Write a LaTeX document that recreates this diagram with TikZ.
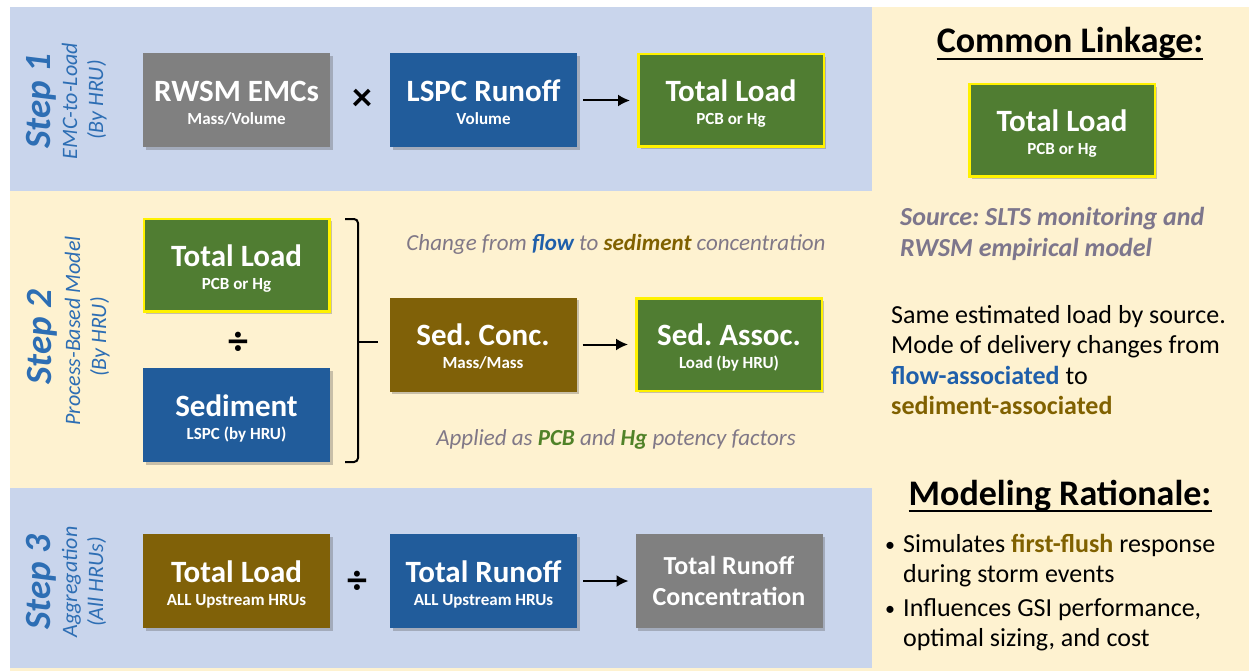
\documentclass[tikz,border=0pt]{standalone}
\usepackage{fontspec}
\setmainfont{Carlito}
\frenchspacing
\usetikzlibrary{arrows.meta,shadows}
\definecolor{cream}{RGB}{254,242,208}
\definecolor{bandblue}{RGB}{201,213,236}
\definecolor{boxgray}{RGB}{128,128,128}
\definecolor{boxblue}{RGB}{33,92,155}
\definecolor{boxgreen}{RGB}{80,125,50}
\definecolor{boxbrown}{RGB}{128,97,8}
\definecolor{stepblue}{RGB}{45,110,180}
\definecolor{flowblue}{RGB}{31,95,170}
\definecolor{sedbrown}{RGB}{128,97,0}
\definecolor{potgreen}{RGB}{80,130,40}
\definecolor{softgray}{RGB}{128,120,135}
\definecolor{srcgray}{RGB}{125,118,140}
\newcommand\flowbox[6]{%
  \node[#4] (#1) at (#2,#3) {};
  \node[ttl] (#1t) at (#2,#3+1) {#5};
  \node[sbt] (#1s) at (#2,#3+24) {#6};
}
\begin{document}
\frenchspacing
\begin{tikzpicture}[x=1pt,y=-1pt,
  box/.style={minimum width=187pt,minimum height=94pt,inner sep=0pt,outer sep=0pt,
    drop shadow={shadow xshift=2.5pt,shadow yshift=-2.5pt,opacity=.3,fill=black!70}},
  graybox/.style={box,fill=boxgray},
  bluebox/.style={box,fill=boxblue},
  brownbox/.style={box,fill=boxbrown},
  greenbox/.style={box,fill=boxgreen,draw=yellow,line width=2.5pt,
    minimum width=185.5pt,minimum height=92.5pt,outer sep=1.25pt},
  ttl/.style={anchor=base,inner sep=0pt,text=white,font=\fontsize{31}{34}\selectfont\bfseries},
  ttl2/.style={anchor=base,inner sep=0pt,text=white,font=\fontsize{26}{28}\selectfont\bfseries},
  sbt/.style={anchor=base,inner sep=0pt,text=white,font=\fontsize{17}{19}\selectfont\bfseries},
  op/.style={inner sep=0pt,text=black,font=\fontsize{40}{42}\selectfont\bfseries},
  arr/.style={line width=2pt,-{Latex[length=12pt,width=12pt]},shorten <=6pt,shorten >=7pt},
  steplbl/.style={rotate=90,anchor=base,inner sep=0pt,text=stepblue,font=\fontsize{37}{40}\selectfont\bfseries\itshape},
  sublbl/.style={rotate=90,anchor=base,inner sep=0pt,text=stepblue,font=\fontsize{22}{24}\selectfont\itshape},
  head/.style={anchor=base,inner sep=0pt,text=black,font=\fontsize{36}{38}\selectfont\bfseries},
  uline/.style={line width=2pt},
  note/.style={anchor=base,inner sep=0pt,text=softgray,font=\fontsize{23}{26}\selectfont\itshape},
  src/.style={anchor=base west,inner sep=0pt,text=srcgray,font=\fontsize{26}{28}\selectfont\bfseries\itshape},
  body/.style={anchor=base west,inner sep=0pt,text=black,font=\fontsize{26}{28}\selectfont},
  brk/.style={line width=2pt,rounded corners=4pt}]
\useasboundingbox (0,0) rectangle (1249,671);
\fill[white] (0,0) rectangle (1249,671);
\fill[cream] (10,7) rectangle (1249,671);
\fill[bandblue] (10,7) rectangle (872,191);
\fill[bandblue] (10,488) rectangle (872,668);

% Step labels
\node[steplbl] (s1) at (50,101) {Step 1};
\node[sublbl] (s1a) at (77,101) {EMC-to-Load};
\node[sublbl] (s1b) at (103,100) {(By HRU)};
\node[steplbl] (s2) at (51,337) {Step 2};
\node[sublbl] (s2a) at (80,331) {Process-Based Model};
\node[sublbl] (s2b) at (106,337) {(By HRU)};
\node[steplbl] (s3) at (50,582) {Step 3};
\node[sublbl] (s3a) at (77,582) {Aggregation};
\node[sublbl] (s3b) at (103,582) {(All HRUs)};

% Step 1
\flowbox{a1}{236.5}{100.5}{graybox}{RWSM EMCs}{Mass/Volume}
\flowbox{a2}{483.5}{100.5}{bluebox}{LSPC Runoff}{Volume}
\flowbox{a3}{731}{100.5}{greenbox}{Total Load}{PCB or Hg}
\node[op] (x1) at (362,100) {×};
\draw[arr] (a2.east) -- (a3.west);

% Step 2
\flowbox{b1}{236.5}{265}{greenbox}{Total Load}{PCB or Hg}
\node[op] (d1) at (238,343) {÷};
\flowbox{b2}{236.5}{415}{bluebox}{Sediment}{LSPC (by HRU)}
\flowbox{b3}{483}{344.5}{brownbox}{Sed. Conc.}{Mass/Mass}
\flowbox{b4}{729}{344.5}{greenbox}{Sed. Assoc.}{Load (by HRU)}
\draw[arr] (b3.east) -- (b4.west);
\coordinate (bt) at (345,219);
\coordinate (bb) at (345,462);
\coordinate (bm) at (358,342);
\draw[brk] (bt) -- (358,219) -- (358,462) -- (bb);
\draw[line width=2pt,shorten >=12pt] (bm) -- (b3.west |- bm);
\node[note] (n1) at (616,250) {Change from {\bfseries\color{flowblue}flow} to {\bfseries\color{sedbrown}sediment} concentration};
\node[note] (n2) at (616,445) {Applied as {\bfseries\color{potgreen}PCB} and {\bfseries\color{potgreen}Hg} potency factors};

% Step 3
\flowbox{c1}{236.5}{581}{brownbox}{Total Load}{ALL Upstream HRUs}
\node[op] (d2) at (357,582) {÷};
\flowbox{c2}{483.5}{581}{bluebox}{Total Runoff}{ALL Upstream HRUs}
\node[graybox] (c3) at (729,581) {};
\node[ttl2] (c3t) at (729,574) {Total Runoff};
\node[ttl2] (c3s) at (729,605) {Concentration};
\draw[arr] (c2.east) -- (c3.west);

% Right panel
\node[head] (cl) at (1070,53) {Common Linkage:};
\draw[uline] ([yshift=-6pt]cl.base west) -- ([yshift=-6pt]cl.base east);
\flowbox{r1}{1062}{130.5}{greenbox}{Total Load}{PCB or Hg}
\node[src] (sr1) at (900,225) {Source: SLTS monitoring and};
\node[src] (sr2) at (900,256) {RWSM empirical model};
\node[body] (m1) at (891,323) {Same estimated load by source.};
\node[body] (m2) at (891,353) {Mode of delivery changes from};
\node[body] (m3) at (891,384) {{\bfseries\color{flowblue}flow-associated} to};
\node[body] (m4) at (891,414) {{\bfseries\color{sedbrown}sediment-associated}};
\node[head] (mr) at (1060,505) {Modeling Rationale:};
\draw[uline] ([yshift=-6pt]mr.base west) -- ([yshift=-6pt]mr.base east);
\node[body,font=\fontsize{20}{22}\selectfont] (bu1) at (885,551) {•};
\node[body] (t1) at (903,552) {Simulates {\bfseries\color{sedbrown}first-flush} response};
\node[body] (t2) at (903,582) {during storm events};
\node[body,font=\fontsize{20}{22}\selectfont] (bu2) at (885,615) {•};
\node[body] (t3) at (903,616) {Influences GSI performance,};
\node[body] (t4) at (903,646) {optimal sizing, and cost};
\end{tikzpicture}
\end{document}
